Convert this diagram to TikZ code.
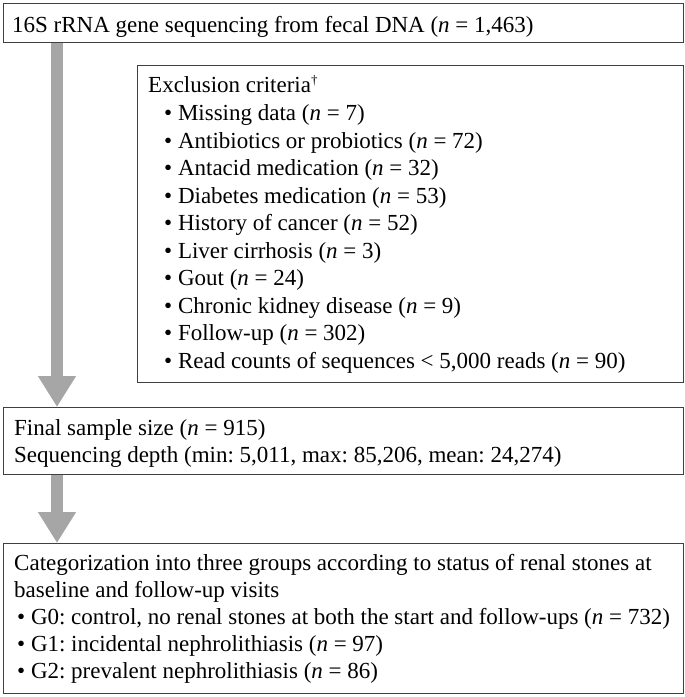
\documentclass[tikz,border=0pt]{standalone}
\usepackage{fontspec}
\setmainfont{Liberation Serif}
\usetikzlibrary{arrows.meta}
\definecolor{arrowgray}{HTML}{A6A6A6}
\definecolor{boxline}{HTML}{404040}
\tikzset{
  box/.style={draw=boxline, line width=1.3pt, rectangle, inner sep=0pt, anchor=north west},
  txt/.style={anchor=base west, inner sep=0pt, font=\fontsize{23}{27.6}\selectfont\frenchspacing},
  bigarrow/.style={draw=arrowgray, line width=12pt, -{Triangle[width=36pt,length=31pt]}}
}
\begin{document}
\begin{tikzpicture}[x=1pt,y=-1pt]
\useasboundingbox (0,0) rectangle (685,697);
% boxes
\node[box, minimum width=680pt, minimum height=39pt] (b1) at (3,3) {};
\node[box, minimum width=546pt, minimum height=317pt] (ex) at (137,65) {};
\node[box, minimum width=680pt, minimum height=67pt] (b2) at (3,407) {};
\node[box, minimum width=680pt, minimum height=150pt] (b3) at (3,543) {};
% arrows
\coordinate (ax) at (57,0);
\draw[bigarrow] (b1.south west -| ax) -- (b2.north west -| ax);
\draw[bigarrow] (b2.south west -| ax) -- (b3.north west -| ax);
% box 1 text
\node[txt] (t1) at (12,32) {16S rRNA gene sequencing from fecal DNA (\textit{n} = 1,463)};
% exclusion text
\node[txt] (e0) at (148,92) {Exclusion criteria\raisebox{8pt}{\fontsize{13}{13}\selectfont\textdagger}};
\node[txt] (e1) at (164,120.5) {\textbullet\ Missing data (\textit{n} = 7)};
\node[txt] (e2) at (164,148) {\textbullet\ Antibiotics or probiotics (\textit{n} = 72)};
\node[txt] (e3) at (164,175.5) {\textbullet\ Antacid medication (\textit{n} = 32)};
\node[txt] (e4) at (164,203) {\textbullet\ Diabetes medication (\textit{n} = 53)};
\node[txt] (e5) at (164,230.5) {\textbullet\ History of cancer (\textit{n} = 52)};
\node[txt] (e6) at (164,258) {\textbullet\ Liver cirrhosis (\textit{n} = 3)};
\node[txt] (e7) at (164,285.5) {\textbullet\ Gout (\textit{n} = 24)};
\node[txt] (e8) at (164,313) {\textbullet\ Chronic kidney disease (\textit{n} = 9)};
\node[txt] (e9) at (164,340.5) {\textbullet\ Follow-up (\textit{n} = 302)};
\node[txt] (e10) at (164,368) {\textbullet\ Read counts of sequences < 5,000 reads (\textit{n} = 90)};
% box 2 text
\node[txt] (f1) at (14,435) {Final sample size (\textit{n} = 915)};
\node[txt] (f2) at (14,462) {Sequencing depth (min: 5,011, max: 85,206, mean: 24,274)};
% box 3 text
\node[txt] (c1) at (14,570) {Categorization into three groups according to status of renal stones at};
\node[txt] (c2) at (14,597) {baseline and follow-up visits};
\node[txt] (c3) at (17,624) {\textbullet\ G0: control, no renal stones at both the start and follow-ups (\textit{n} = 732)};
\node[txt] (c4) at (17,651) {\textbullet\ G1: incidental nephrolithiasis (\textit{n} = 97)};
\node[txt] (c5) at (17,678) {\textbullet\ G2: prevalent nephrolithiasis (\textit{n} = 86)};
\end{tikzpicture}
\end{document}
